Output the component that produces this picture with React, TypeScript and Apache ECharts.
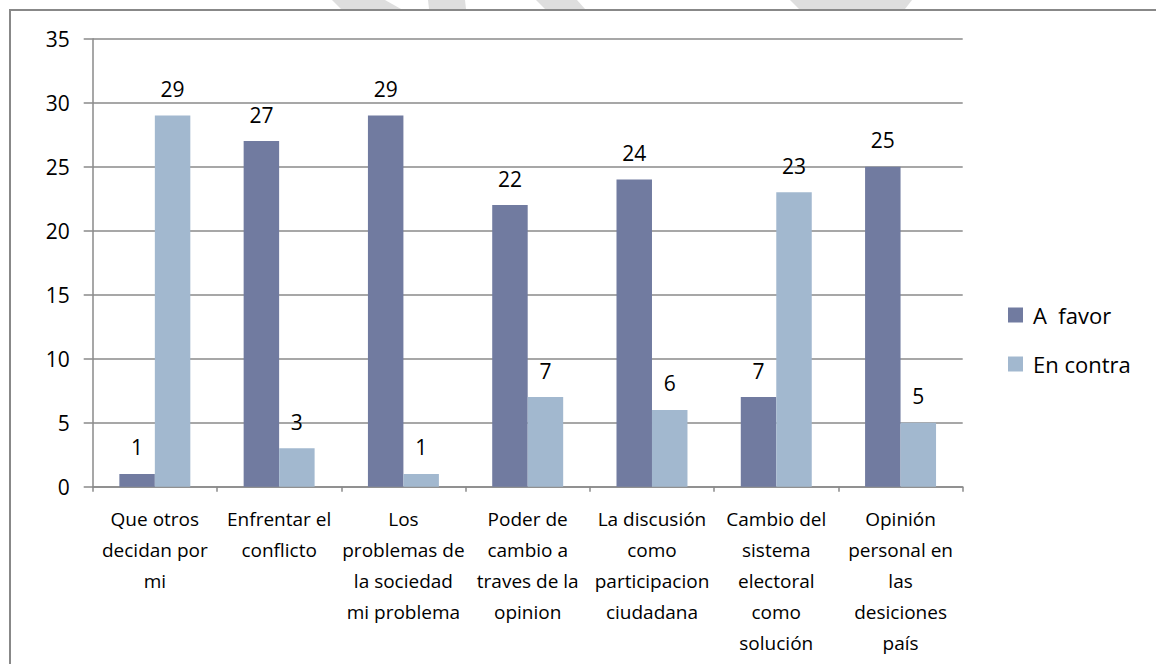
import React, { useEffect, useRef } from "react";
import * as echarts from "echarts";

const categories = [
  "Que otros\ndecidan por\nmi",
  "Enfrentar el\nconflicto",
  "Los\nproblemas de\nla sociedad\nmi problema",
  "Poder de\ncambio a\ntraves de la\nopinion",
  "La discusión\ncomo\nparticipacion\nciudadana",
  "Cambio del\nsistema\nelectoral\ncomo\nsolución",
  "Opinión\npersonal en\nlas\ndesiciones\npaís",
];
const aFavor = [1, 27, 29, 22, 24, 7, 25];
const enContra = [29, 3, 1, 7, 6, 23, 5];
const seriesNames = ["A  favor", "En contra"];

const FONT = "'Open Sans', 'Noto Sans', sans-serif";
const GRID = "#8a8a8a";

export default function App() {
  const ref = useRef<HTMLDivElement>(null);
  useEffect(() => {
    document.body.style.margin = "0";
    const chart = echarts.init(ref.current!, undefined, { renderer: "svg" });
    const wm = "#dedede";
    chart.setOption({
      animation: false,
      backgroundColor: "#ffffff",
      graphic: [
        { type: "polygon", z: -10, shape: { points: [[332, 0], [385, 0], [401, 9], [341, 9]] }, style: { fill: wm } },
        { type: "polygon", z: -10, shape: { points: [[428, 0], [465, 0], [466, 9], [429, 9]] }, style: { fill: wm } },
        { type: "polygon", z: -10, shape: { points: [[536, 0], [577, 0], [585, 9], [545, 9]] }, style: { fill: wm } },
        { type: "polygon", z: -10, shape: { points: [[790, 0], [912, 0], [905, 9], [799, 9]] }, style: { fill: wm } },
        {
          type: "rect",
          z: 100,
          shape: { x: 10, y: 10, width: 1170, height: 700 },
          style: { fill: "none", stroke: "#888888", lineWidth: 2 },
        },
      ],
      grid: { left: 92.7, right: 193.3, top: 38.7, bottom: 177.3, containLabel: false },
      legend: {
        orient: "vertical",
        left: 1008,
        top: 304,
        padding: 0,
        itemWidth: 15,
        itemHeight: 15,
        itemGap: 27,
        icon: "rect",
        data: seriesNames,
        textStyle: { fontFamily: FONT, fontSize: 22, color: "#000", padding: [0, 0, 0, 5] },
      },
      xAxis: {
        type: "category",
        data: categories,
        axisLine: { show: true, lineStyle: { color: GRID, width: 1.5 } },
        axisTick: { show: true, length: 5, lineStyle: { color: GRID, width: 1.5 } },
        axisLabel: {
          interval: 0,
          margin: 17,
          fontFamily: FONT,
          fontSize: 19,
          lineHeight: 31,
          color: "#000",
        },
      },
      yAxis: {
        type: "value",
        min: 0,
        max: 35,
        interval: 5,
        axisLine: { show: true, lineStyle: { color: GRID, width: 1.5 } },
        axisTick: { show: true, length: 9, lineStyle: { color: GRID, width: 1.5 } },
        splitLine: { show: true, lineStyle: { color: GRID, width: 1.5 } },
        axisLabel: { margin: 23, fontFamily: FONT, fontSize: 21, color: "#000" },
      },
      series: [
        {
          name: seriesNames[0],
          type: "bar",
          data: aFavor,
          barGap: "0%",
          barCategoryGap: "42.9%",
          itemStyle: { color: "#717ba0" },
          label: { show: true, position: "top", distance: 16, fontFamily: FONT, fontSize: 21, color: "#000" },
        },
        {
          name: seriesNames[1],
          type: "bar",
          data: enContra,
          barGap: "0%",
          barCategoryGap: "42.9%",
          itemStyle: { color: "#a2b8cf" },
          label: { show: true, position: "top", distance: 16, fontFamily: FONT, fontSize: 21, color: "#000" },
        },
      ],
    });
    return () => chart.dispose();
  }, []);
  return <div ref={ref} style={{ width: 1156, height: 664 }} />;
}
